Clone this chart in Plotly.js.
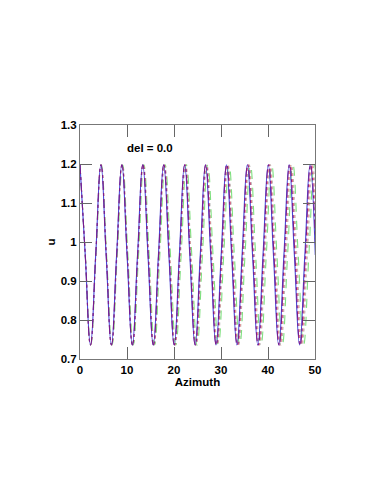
<!DOCTYPE html>
<html>
<head>
<meta charset="utf-8">
<script src="https://cdn.plot.ly/plotly-3.0.1.min.js"></script>
<style>
  html, body { margin: 0; padding: 0; background: #fff; }
  #plot { width: 383px; height: 495px; }
</style>
</head>
<body>
<div id="plot"></div>
<script>
// u levels read at quarter periods: peak, mid, trough, mid ...
const uLevels = [1.198, 0.967, 0.736, 0.967, 1.198, 0.967, 0.736, 0.967, 1.198, 0.967, 0.736, 0.967,
                 1.198, 0.967, 0.736, 0.967, 1.198, 0.967, 0.736, 0.967, 1.198, 0.967, 0.736, 0.967,
                 1.198, 0.967, 0.736, 0.967, 1.198, 0.967, 0.736, 0.967, 1.198, 0.967, 0.736, 0.967,
                 1.198, 0.967, 0.736, 0.967, 1.198, 0.967, 0.736, 0.967, 1.198, 0.967];

// azimuth of those points for each curve (curves drift apart slowly)
const azBlue = [0, 1.11, 2.23, 3.34, 4.45, 5.56, 6.68, 7.79, 8.90, 10.01, 11.13, 12.24, 13.35, 14.46, 15.58, 16.69,
  17.80, 18.91, 20.03, 21.14, 22.25, 23.36, 24.48, 25.59, 26.70, 27.81, 28.93, 30.04, 31.15, 32.26, 33.38, 34.49,
  35.60, 36.71, 37.83, 38.94, 40.05, 41.16, 42.28, 43.39, 44.50, 45.61, 46.73, 47.84, 48.95, 50.06];
const azPurple = [0, 1.12, 2.23, 3.35, 4.46, 5.58, 6.69, 7.81, 8.92, 10.04, 11.15, 12.27, 13.38, 14.50, 15.61, 16.73,
  17.84, 18.96, 20.07, 21.19, 22.30, 23.42, 24.53, 25.65, 26.76, 27.88, 28.99, 30.11, 31.22, 32.34, 33.45, 34.57,
  35.68, 36.80, 37.91, 39.03, 40.14, 41.26, 42.37, 43.49, 44.60, 45.72, 46.83, 47.95, 49.06, 50.18];
const azRed = [0, 1.12, 2.24, 3.36, 4.48, 5.60, 6.72, 7.84, 8.96, 10.08, 11.20, 12.32, 13.44, 14.56, 15.68, 16.80,
  17.92, 19.04, 20.16, 21.28, 22.40, 23.52, 24.64, 25.76, 26.88, 28.00, 29.12, 30.24, 31.36, 32.48, 33.60, 34.72,
  35.84, 36.96, 38.08, 39.20, 40.32, 41.44, 42.56, 43.68, 44.80, 45.92, 47.04, 48.16, 49.28, 50.40];
const azGrey = [0, 1.13, 2.25, 3.38, 4.50, 5.63, 6.75, 7.88, 9.00, 10.13, 11.25, 12.38, 13.50, 14.63, 15.75, 16.88,
  18.00, 19.13, 20.25, 21.38, 22.50, 23.63, 24.75, 25.88, 27.00, 28.13, 29.25, 30.38, 31.50, 32.63, 33.75, 34.88,
  36.00, 37.13, 38.25, 39.38, 40.50, 41.63, 42.75, 43.88, 45.00, 46.13, 47.25, 48.38, 49.50, 50.63];
const azGreen = [0, 1.13, 2.27, 3.40, 4.53, 5.66, 6.80, 7.93, 9.06, 10.19, 11.33, 12.46, 13.59, 14.72, 15.86, 16.99,
  18.12, 19.25, 20.39, 21.52, 22.65, 23.78, 24.92, 26.05, 27.18, 28.31, 29.45, 30.58, 31.71, 32.84, 33.98, 35.11,
  36.24, 37.37, 38.51, 39.64, 40.77, 41.90, 43.04, 44.17, 45.30, 46.43, 47.57, 48.70, 49.83, 50.96];

const curves = [
  {x: azGrey,   color: '#b8b8b8', dash: 'dot'},
  {x: azGreen,  color: '#7fe07f', dash: 'dash'},
  {x: azRed,    color: '#f08080', dash: 'dot'},
  {x: azBlue,   color: '#4646d8', dash: 'solid'},
  {x: azPurple, color: '#7a1a8c', dash: 'dashdot'}
];

const plot_data = curves.map(c => ({
  x: c.x,
  y: uLevels,
  type: 'scatter',
  mode: 'lines',
  line: {color: c.color, dash: c.dash, width: 1.1, shape: 'spline', smoothing: 1.3},
  hoverinfo: 'skip'
}));

const font = {family: 'Liberation Sans, Arial, sans-serif', size: 11.5, color: '#000', weight: 'bold'};

const axis = {
  showline: true,
  mirror: 'ticks',
  linecolor: '#777',
  linewidth: 1,
  ticks: 'inside',
  ticklen: 12,
  tickcolor: '#666',
  showgrid: false,
  zeroline: false,
  tickfont: font
};

const layout = {
  width: 383,
  height: 495,
  margin: {l: 80, r: 68, t: 125, b: 136},
  paper_bgcolor: '#fff',
  plot_bgcolor: '#fff',
  showlegend: false,
  font: font,
  xaxis: Object.assign({}, axis, {
    range: [0, 50],
    tickvals: [0, 10, 20, 30, 40, 50],
    ticklabelstandoff: 0,
    title: {text: 'Azimuth', font: font, standoff: 2}
  }),
  yaxis: Object.assign({}, axis, {
    range: [0.7, 1.3],
    tickvals: [0.7, 0.8, 0.9, 1, 1.1, 1.2, 1.3],
    ticktext: ['0.7', '0.8', '0.9', '1', '1.1', '1.2', '1.3'],
    ticklabelstandoff: 0,
    title: {text: 'u', font: font, standoff: 2}
  }),
  annotations: [{
    x: 14.8, y: 1.241, xref: 'x', yref: 'y',
    text: 'del = 0.0', showarrow: false, font: font
  }]
};

Plotly.newPlot('plot', plot_data, layout, {displayModeBar: false, staticPlot: true});
</script>
</body>
</html>
